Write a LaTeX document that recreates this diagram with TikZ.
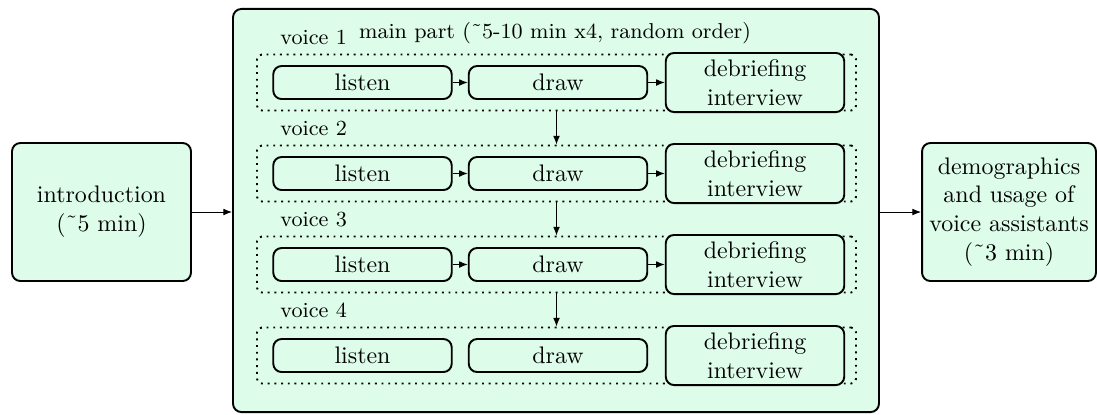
\documentclass[tikz,border=0pt]{standalone}
\usetikzlibrary{arrows.meta}
\definecolor{mint}{RGB}{221,252,233}
\newcommand{\tld}{{\char"02DC}}
\tikzset{
  phase/.style={draw, thick, fill=mint, rounded corners=3.5pt, align=center, inner sep=0pt},
  stepbox/.style={draw, thick, fill=mint, rounded corners=3.5pt, align=center, inner sep=0pt,
    minimum width=74.6pt},
  rowbox/.style={draw, thick, dotted, rounded corners=2pt, minimum width=250.4pt,
    minimum height=23.4pt, inner sep=0pt},
  tag/.style={font=\small, inner sep=0pt},
  arr/.style={-{Latex[length=3.6pt,width=2.8pt]}},
}
\begin{document}
\begin{tikzpicture}[x=0.418pt, y=-0.418pt]
\useasboundingbox (0,0) rectangle (1097,414);

% outer phases
\node[phase, minimum width=74.8pt, minimum height=57.7pt] (intro) at (101.5,212)
  {introduction\\(\tld5 min)};
\node[phase, minimum width=270pt, minimum height=168.5pt] (main) at (556,210.5) {};
\node[phase, minimum width=72.7pt, minimum height=57.7pt] (demo) at (1009,212)
  {demographics\\and usage of\\voice assistants\\(\tld3 min)};

\node[tag, anchor=base] (title) at (555,38) {main part (\tld5-10 min x4, random order)};

% one dotted row per voice
\foreach \k in {1,...,4} {
  \pgfmathsetmacro{\yy}{82.5+91*(\k-1)}
  \node[rowbox] (row\k) at (556.5,\yy) {};
  \node[tag, anchor=base west] (v\k) at (280,{44+91*(\k-1)}) {voice \k};
  \node[stepbox, minimum height=13.8pt] (l\k) at (362.5,\yy) {listen};
  \node[stepbox, minimum height=13.8pt] (d\k) at (558,\yy) {draw};
  \node[stepbox, minimum height=24.7pt] (b\k) at (755,\yy) {debriefing\\interview};
}

\foreach \k in {1,2,3} {
  \draw[arr] (l\k) -- (d\k);
  \draw[arr] (d\k) -- (b\k);
}
\draw[arr] (row1.south) -- (row2.north);
\draw[arr] (row2.south) -- (row3.north);
\draw[arr] (row3.south) -- (row4.north);

\draw[arr] (intro.east) -- (intro.east -| main.west);
\draw[arr] (intro.east -| main.east) -- (demo.west);
\end{tikzpicture}
\end{document}
